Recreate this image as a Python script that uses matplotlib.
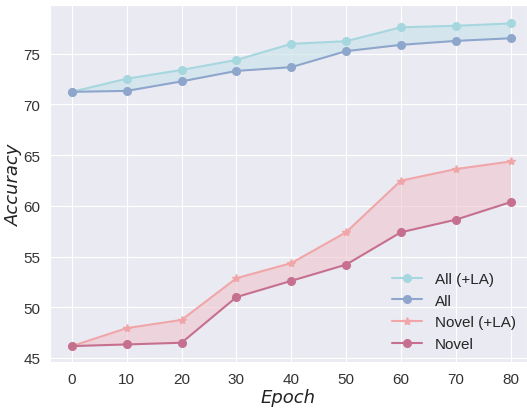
import matplotlib
matplotlib.use("Agg")
import matplotlib.pyplot as plt
import seaborn as sns

epochs = [0, 10, 20, 30, 40, 50, 60, 70, 80]
all_la = [71.24, 72.53, 73.4, 74.38, 75.97, 76.23, 77.6, 77.75, 77.98]
all_base = [71.24, 71.33, 72.27, 73.3, 73.67, 75.25, 75.87, 76.26, 76.52]
novel_la = [46.17, 47.94, 48.75, 52.86, 54.35, 57.39, 62.48, 63.62, 64.37]
novel_base = [46.17, 46.33, 46.5, 51.0, 52.6, 54.2, 57.39, 58.63, 60.36]

sns.set_style("darkgrid")
plt.rcParams['font.family'] = ['Liberation Sans', 'DejaVu Sans']

fig = plt.figure(figsize=(5.27, 4.1), dpi=100)
ax = fig.add_axes([50/527, 47/410, 477/527, 357/410])

c_all_la = '#a6d7df'
c_all = '#8ea6cc'
c_nov_la = '#f0a6a8'
c_nov = '#c6708f'

ax.fill_between(epochs, all_base, all_la, color='#cde4ec', alpha=0.7, lw=0)
ax.fill_between(epochs, novel_base, novel_la, color='#f0c4cc', alpha=0.6, lw=0)
ax.plot(epochs, all_la, color=c_all_la, marker='o', ms=5.5, lw=1.5, label='All (+LA)')
ax.plot(epochs, all_base, color=c_all, marker='o', ms=5.5, lw=1.5, label='All')
ax.plot(epochs, novel_la, color=c_nov_la, marker='*', ms=6, lw=1.5, label='Novel (+LA)')
ax.plot(epochs, novel_base, color=c_nov, marker='o', ms=5.5, lw=1.5, label='Novel')

ax.set_xlim(-4, 83)
ax.set_ylim(44.6, 79.8)
ax.set_xticks(epochs)
ax.set_yticks([45, 50, 55, 60, 65, 70, 75])
ax.tick_params(labelsize=11, colors='#333333')
ax.set_xlabel('Epoch', fontsize=13, fontstyle='italic', family='DejaVu Sans', color='#222222', labelpad=2)
ax.set_ylabel('Accuracy', fontsize=13, fontstyle='italic', family='DejaVu Sans', color='#222222', labelpad=0)
ax.legend(loc='lower right', frameon=False, fontsize=11, bbox_to_anchor=(1.005, -0.008))

fig.savefig('out.png', dpi=100)
